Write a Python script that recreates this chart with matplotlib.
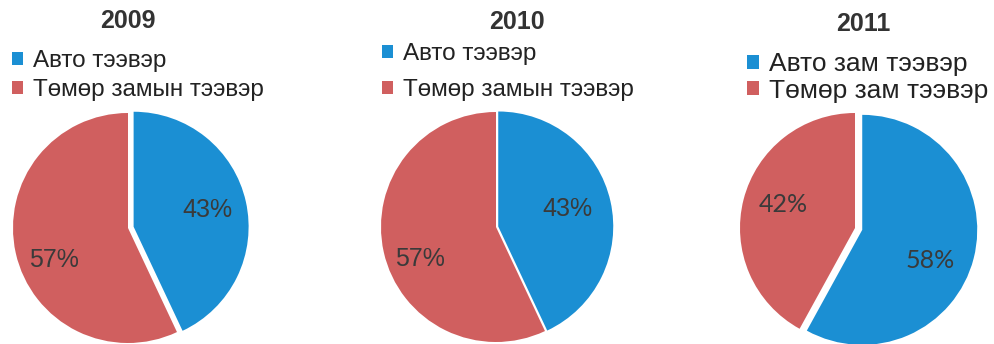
import matplotlib.pyplot as plt

W, H = 994, 344
years = ["2009", "2010", "2011"]
labels_2009 = ["Авто тээвэр", "Төмөр замын тээвэр"]
labels_2010 = ["Авто тээвэр", "Төмөр замын тээвэр"]
labels_2011 = ["Авто зам тээвэр", "Төмөр зам тээвэр"]
share_2009 = [43, 57]
share_2010 = [43, 57]
share_2011 = [58, 42]

blue = "#1B8FD3"
red = "#D05F5F"
txt = "#3A3A3A"

fig = plt.figure(figsize=(W / 100, H / 100), dpi=100)

R = 115  # pie radius in px
# center x, center y (from top), explode, title pos, legend pos, spacing, sizes, label nudges
panels = [
    dict(c=(128, 228), ex=0.05, t=(128, 21), l=(12, 50), sp=0.3, lsize=17.5,
         font="Liberation Sans", nudge=[(-0.02, 0.0), (0.02, -0.13)]),
    dict(c=(496, 227), ex=0.02, t=(517, 22), l=(382, 43), sp=0.58, lsize=17.5,
         font="Liberation Sans", nudge=[(-0.06, 0.0), (0.0, -0.13)]),
    dict(c=(855, 228), ex=0.065, t=(863, 24), l=(747, 52), sp=0.1, lsize=19,
         font="Lato", nudge=[(-0.07, -0.10), (0.035, 0.035)]),
]
data = [(labels_2009, share_2009), (labels_2010, share_2010), (labels_2011, share_2011)]

for yr, (labels, vals), p in zip(years, data, panels):
    cx, cy = p["c"]
    half = 125
    ax = fig.add_axes([(cx - half) / W, (H - cy - half) / H, 2 * half / W, 2 * half / H])
    wedges, _, autotexts = ax.pie(vals, colors=[blue, red], startangle=90,
                                  counterclock=False, explode=[p["ex"], 0],
                                  autopct='%1.0f%%', pctdistance=0.68,
                                  textprops=dict(color=txt, fontsize=18, family=p["font"]))
    for at, (dx, dy) in zip(autotexts, p["nudge"]):
        x0, y0 = at.get_position()
        at.set_position((x0 + dx, y0 + dy))
    lim = half / R
    ax.set_xlim(-lim, lim)
    ax.set_ylim(-lim, lim)
    ax.set_aspect('equal')
    ax.axis('off')

    tx, ty = p["t"]
    fig.text(tx / W, 1 - ty / H, yr, ha='center', va='center', fontsize=18,
             fontweight='bold', color="#333333", family="Liberation Sans")

    lx, ly = p["l"]
    leg = fig.legend(wedges, labels, loc='upper left',
                     bbox_to_anchor=(lx / W, 1 - ly / H), bbox_transform=fig.transFigure,
                     frameon=False, borderpad=0, borderaxespad=0,
                     handlelength=0.45, handleheight=0.45, handletextpad=0.4,
                     labelspacing=p["sp"], prop=dict(family="Liberation Sans", size=p["lsize"]))
    for t in leg.get_texts():
        t.set_color("#222222")

fig.savefig("out.png", dpi=100, facecolor="white")
